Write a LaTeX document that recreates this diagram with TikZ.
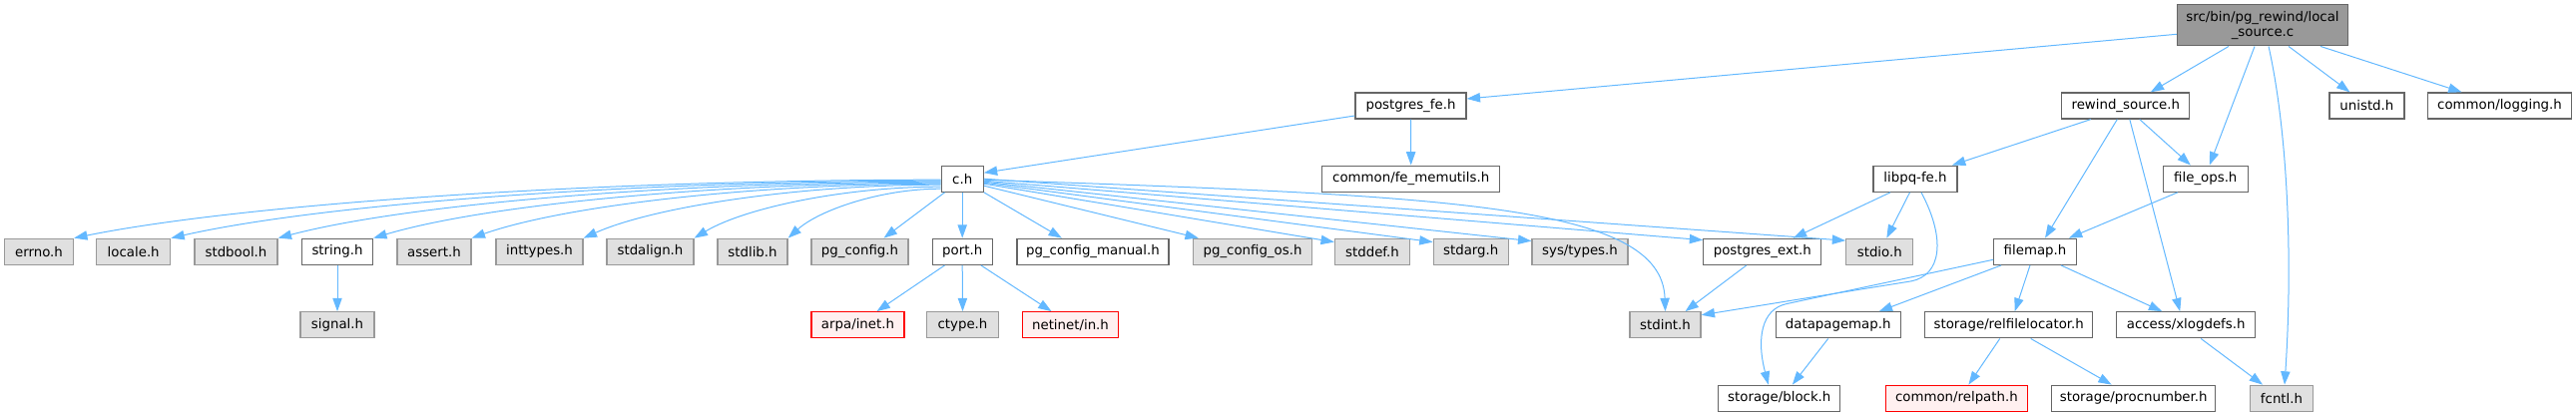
\documentclass[tikz,border=0pt]{standalone}
\usepackage{fontspec}
\setmainfont{DejaVu Sans}
\usetikzlibrary{arrows.meta,calc}
\definecolor{edgeblue}{HTML}{63B8FF}
\definecolor{wborder}{HTML}{666666}
\definecolor{gborder}{HTML}{999999}
\definecolor{gfill}{HTML}{E0E0E0}
\definecolor{rootfill}{HTML}{999999}
\definecolor{rfill}{HTML}{FFF0F0}
\definecolor{rborder}{HTML}{FF0000}
\begin{document}
\begin{tikzpicture}[x=0.75pt,y=-0.75pt,
  every node/.style={font=\fontsize{10pt}{11.5pt}\selectfont, text=black},
  wbox/.style={draw=wborder, fill=white, line width=1pt, rectangle, inner sep=0pt, minimum height=26*0.75pt, minimum width=#1*0.75pt},
  gbox/.style={draw=gborder, fill=gfill, line width=1pt, rectangle, inner sep=0pt, minimum height=26*0.75pt, minimum width=#1*0.75pt},
  rbox/.style={draw=rborder, fill=rfill, line width=1pt, rectangle, inner sep=0pt, minimum height=26*0.75pt, minimum width=#1*0.75pt},
  rootbox/.style={draw=wborder, fill=rootfill, line width=1pt, rectangle, inner sep=0pt, minimum height=41*0.75pt, minimum width=171*0.75pt, align=center},
  lnk/.style={draw=edgeblue, line width=0.75pt, -{Triangle[length=10pt,width=7pt]}}
]
\useasboundingbox (0,0) rectangle (2581,417);

% row 1
\node[rootbox] (root) at (2267,25.3) {src/bin/pg\_rewind/local\\\_source.c};
% row 2
\node[wbox=111] (pfe) at (1413.5,106) {postgres\_fe.h};
\node[wbox=128] (rws) at (2129.8,106) {rewind\_source.h};
\node[wbox=75] (unistd) at (2371.4,106) {unistd.h};
\node[wbox=144] (logging) at (2504.5,106) {common/logging.h};
% row 3
\node[wbox=42] (ch) at (964.2,179.2) {c.h};
\node[wbox=178] (femem) at (1413.7,179.2) {common/fe\_memutils.h};
\node[wbox=84] (libpq) at (1919,179.2) {libpq-fe.h};
\node[wbox=85] (fops) at (2209.8,179.2) {file\_ops.h};
% row 4
\node[gbox=69] (errno) at (39,252.3) {errno.h};
\node[gbox=74] (locale) at (133.7,252.3) {locale.h};
\node[gbox=83] (stdbool) at (236.5,252.3) {stdbool.h};
\node[wbox=71] (string) at (338,252.3) {string.h};
\node[gbox=74] (assert) at (435,252.3) {assert.h};
\node[gbox=87] (inttypes) at (540.5,252.3) {inttypes.h};
\node[gbox=87] (stdalign) at (651.5,252.3) {stdalign.h};
\node[gbox=70] (stdlib) at (754,252.3) {stdlib.h};
\node[gbox=97] (pgc) at (861.5,252.3) {pg\_config.h};
\node[wbox=60] (port) at (964.2,252.3) {port.h};
\node[wbox=152] (pgcm) at (1094.9,252.3) {pg\_config\_manual.h};
\node[gbox=119] (pgcos) at (1255,252.3) {pg\_config\_os.h};
\node[gbox=75] (stddef) at (1375,252.3) {stddef.h};
\node[gbox=75] (stdarg) at (1473.7,252.3) {stdarg.h};
\node[gbox=96] (systypes) at (1583,252.3) {sys/types.h};
\node[wbox=118] (pext) at (1765.8,252.3) {postgres\_ext.h};
\node[gbox=67] (stdio) at (1883.3,252.3) {stdio.h};
\node[wbox=82.5] (filemap) at (2039,252.3) {filemap.h};
% row 5
\node[gbox=74] (signal) at (338,325.8) {signal.h};
\node[rbox=93] (arpa) at (859.5,325.8) {arpa/inet.h};
\node[gbox=72] (ctype) at (964.5,325.8) {ctype.h};
\node[rbox=96] (netinet) at (1072.5,325.8) {netinet/in.h};
\node[gbox=71] (stdint) at (1668.5,325.8) {stdint.h};
\node[wbox=125] (dpm) at (1841.7,325.8) {datapagemap.h};
\node[wbox=168] (relfile) at (2012.7,325.8) {storage/relfilelocator.h};
\node[wbox=139] (xlog) at (2190.2,325.8) {access/xlogdefs.h};
% row 6
\node[wbox=122] (block) at (1782.8,399.3) {storage/block.h};
\node[rbox=142] (relpath) at (1960.4,399.3) {common/relpath.h};
\node[wbox=164] (procnum) at (2137.7,399.3) {storage/procnumber.h};
\node[gbox=63] (fcntl) at (2286,399.3) {fcntl.h};

% edges from root
\draw[lnk] ($(root.west)+(0,9)$) -- ($(pfe.east)+(0,-7)$);
\draw[lnk] ($(root.south)+(-34,0)$) -- ($(rws.north)+(25,0)$);
\draw[lnk] ($(root.south)+(-8,0)$) -- ($(fops.north)+(4,0)$);
\draw[lnk] ($(root.south)+(6,0)$) .. controls +(20,90) and +(8,-120) .. ($(fcntl.north)+(3,0)$);
\draw[lnk] ($(root.south)+(26,0)$) -- ($(unistd.north)+(-17,0)$);
\draw[lnk] ($(root.south)+(58,0)$) -- ($(logging.north)+(-38,0)$);

% postgres_fe.h
\draw[lnk] ($(pfe.west)+(0,10)$) -- ($(ch.east)+(0,-6)$);
\draw[lnk] (pfe.south) -- (femem.north);

% c.h to the left
\draw[lnk] ($(ch.west)+(0,1)$) .. controls +(-339,0) and +(174,-35) .. (errno.north east);
\draw[lnk] ($(ch.west)+(0,2)$) .. controls +(-301,0) and +(155,-35) .. (locale.north east);
\draw[lnk] ($(ch.west)+(0,3)$) .. controls +(-259,0) and +(133,-35) .. (stdbool.north east);
\draw[lnk] ($(ch.west)+(0,4)$) .. controls +(-222,0) and +(114,-34) .. (string.north east);
\draw[lnk] ($(ch.west)+(0,5)$) .. controls +(-184,0) and +(94,-33) .. (assert.north east);
\draw[lnk] ($(ch.west)+(0,6)$) .. controls +(-140,0) and +(72,-32) .. (inttypes.north east);
\draw[lnk] ($(ch.west)+(0,8)$) .. controls +(-97,0) and +(50,-30) .. (stdalign.north east);
\draw[lnk] ($(ch.west)+(0,10)$) .. controls +(-60,0) and +(31,-28) .. (stdlib.north east);
\draw[lnk] ($(ch.south west)+(4,0)$) -- ($(pgc.north)+(24,0)$);
\draw[lnk] (ch.south) -- (port.north);
% c.h to the right
\draw[lnk] (ch.south east) -- ($(pgcm.north)+(-31,0)$);
\draw[lnk] ($(ch.east)+(0,7)$) -- ($(pgcos.north west)+(6,0)$);
\draw[lnk] ($(ch.east)+(0,5)$) -- ($(stddef.north west)+(0,4)$);
\draw[lnk] ($(ch.east)+(0,4)$) -- ($(stdarg.north west)+(0,4)$);
\draw[lnk] ($(ch.east)+(0,3)$) -- ($(systypes.north west)+(0,3)$);
\draw[lnk] ($(ch.east)+(0,2)$) -- ($(pext.north west)+(0,2)$);
\draw[lnk] ($(ch.east)+(0,0)$) -- ($(stdio.north west)+(0,2.5)$);
\draw[lnk] ($(ch.east)+(0,1)$) .. controls +(465,16) and +(-3.5,-108) .. (stdint.north);

% string.h, port.h
\draw[lnk] (string.south) -- (signal.north);
\draw[lnk] ($(port.south west)+(13,0)$) -- ($(arpa.north)+(19,0)$);
\draw[lnk] (port.south) -- (ctype.north);
\draw[lnk] ($(port.south east)+(-12,0)$) -- ($(netinet.north)+(-19,0)$);

% rewind_source.h
\draw[lnk] ($(rws.south)+(-35,0)$) -- ($(libpq.north)+(37,0)$);
\draw[lnk] ($(rws.south)+(-8.5,0)$) -- ($(filemap.north)+(10,0)$);
\draw[lnk] ($(rws.south)+(14,0)$) -- ($(fops.north)+(-15,0)$);
\draw[lnk] ($(rws.south)+(4,0)$) -- ($(xlog.north)+(-6,0)$);

% file_ops.h
\draw[lnk] ($(fops.south)+(-28,0)$) -- ($(filemap.north east)+(-8,0)$);

% libpq-fe.h
\draw[lnk] ($(libpq.south)+(-25,0)$) -- ($(pext.north)+(31,0)$);
\draw[lnk] ($(libpq.south)+(-5.5,0)$) -- ($(stdio.north)+(7,0)$);
\draw[lnk] ($(libpq.south)+(6,0)$) .. controls +(25,47) and +(30,-6) .. ($(libpq.south)+(-4,89)$) -- ($(stdint.east)+(0,-10)$);

% postgres_ext.h
\draw[lnk] ($(pext.south)+(-16,0)$) -- ($(stdint.north)+(20,0)$);

% filemap.h
\draw[lnk] ($(filemap.west)+(0,8)$) -- ($(block.north)+(7,-81)$) .. controls +(-25,5.5) and +(-12,-46) .. ($(block.north)+(-11,0)$);
\draw[lnk] ($(filemap.south west)+(8,0)$) -- ($(dpm.north)+(41,0)$);
\draw[lnk] ($(filemap.south)+(-5,0)$) -- ($(relfile.north)+(6,0)$);
\draw[lnk] ($(filemap.south)+(26,0)$) -- ($(xlog.north)+(-24,0)$);

% lower rows
\draw[lnk] ($(dpm.south)+(-10,0)$) -- ($(block.north)+(13,0)$);
\draw[lnk] ($(relfile.south)+(-9,0)$) -- ($(relpath.north)+(12,0)$);
\draw[lnk] ($(relfile.south)+(22,0)$) -- ($(procnum.north)+(-22,0)$);
\draw[lnk] ($(xlog.south)+(15,0)$) -- ($(fcntl.north)+(-19,0)$);
\end{tikzpicture}
\end{document}
